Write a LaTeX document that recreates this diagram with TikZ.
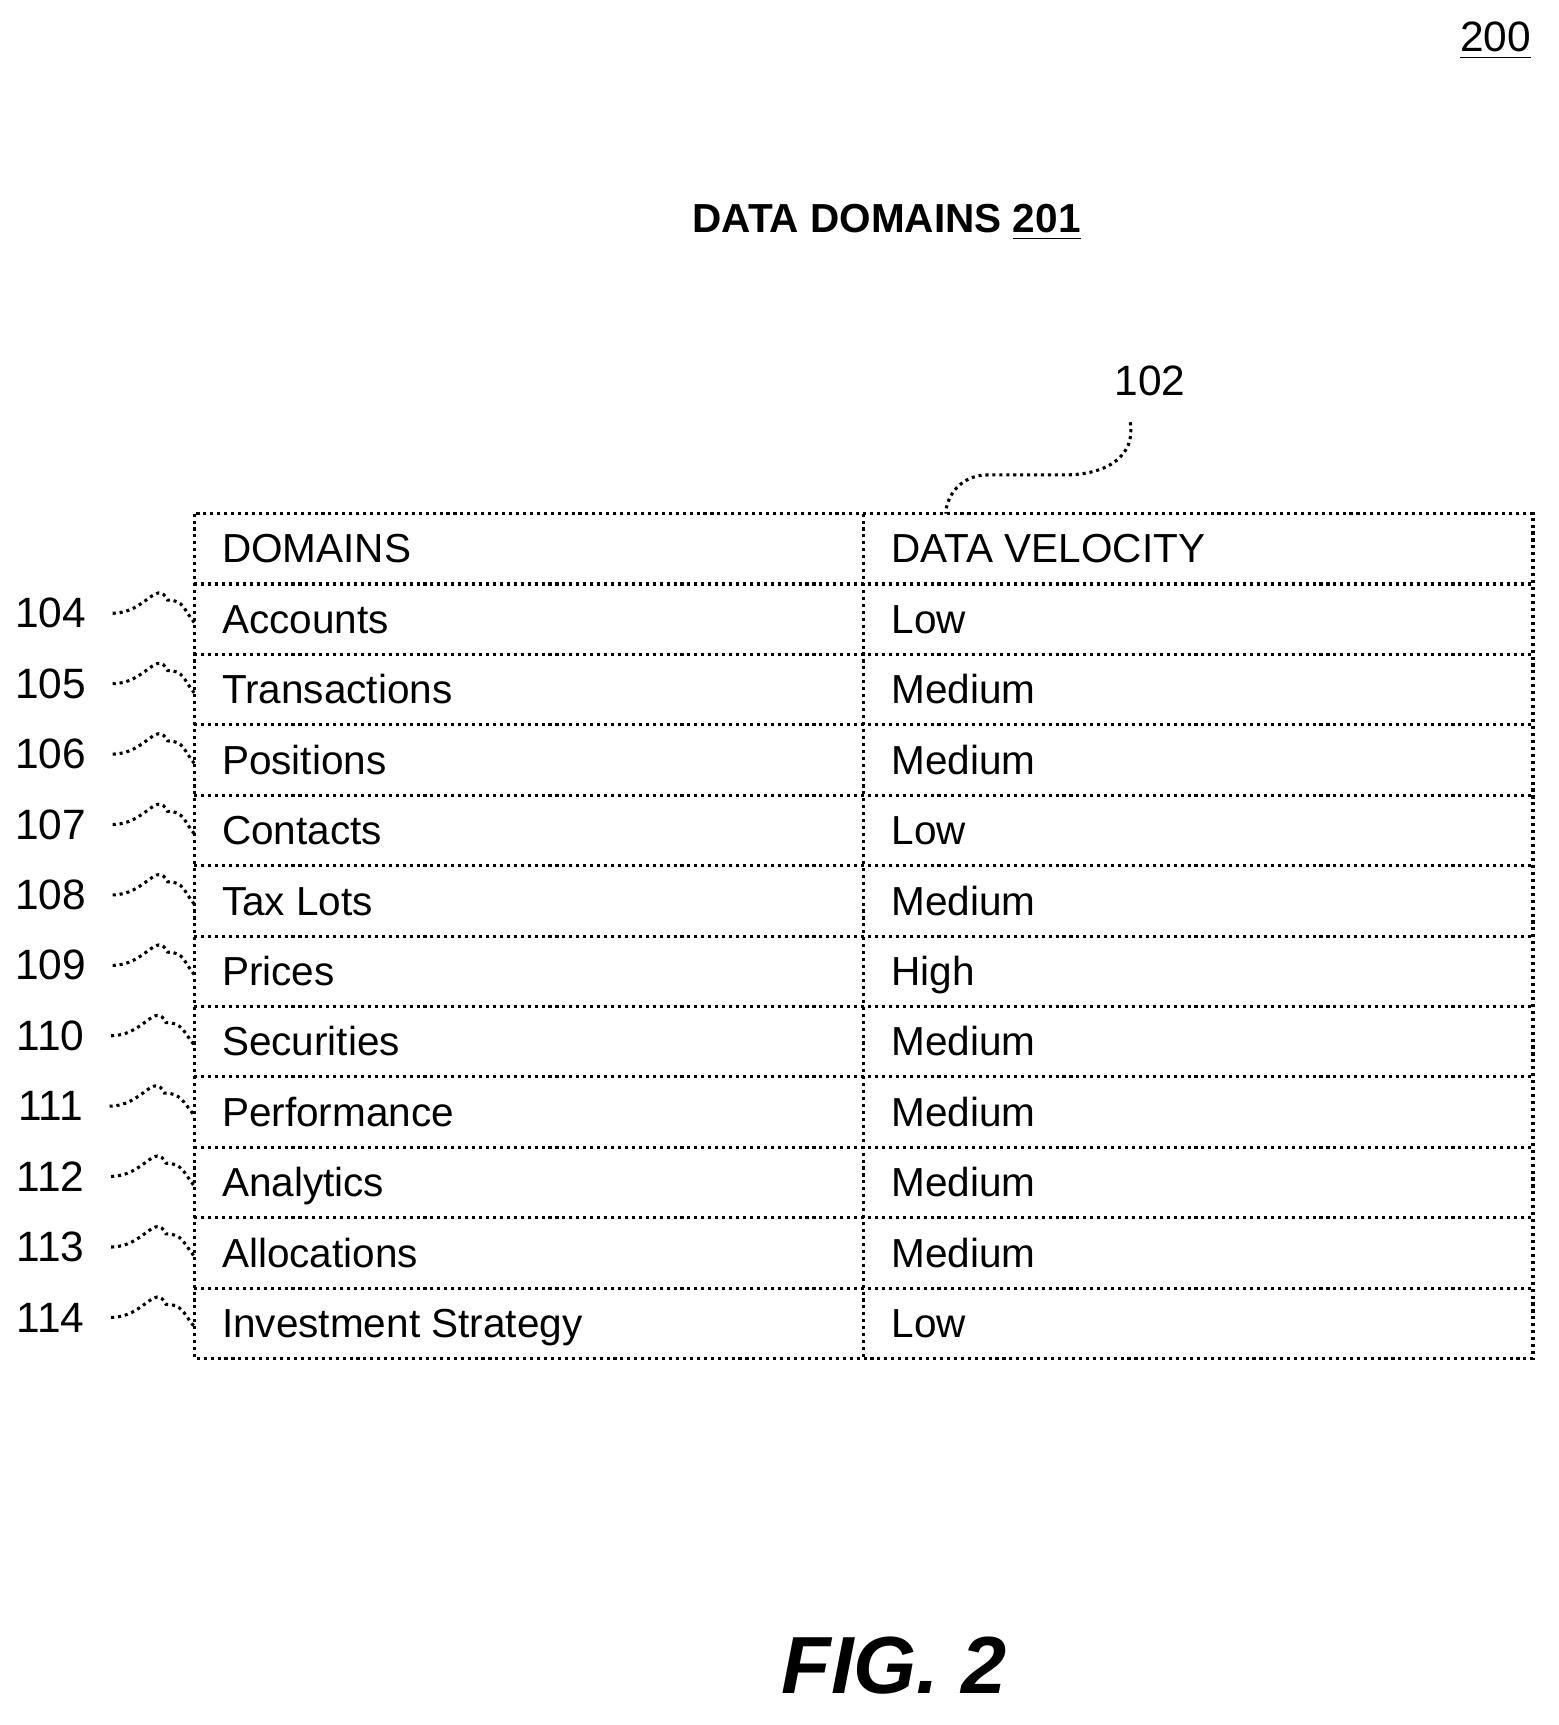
\documentclass[tikz,border=0pt]{standalone}
\usepackage{fontspec}
\setmainfont{Liberation Sans}
\begin{document}
\begin{tikzpicture}[x=0.01cm,y=-0.01cm,
    txt/.style={font=\fontsize{10.5}{13}\selectfont,anchor=base west},
    refnum/.style={font=\fontsize{11}{13}\selectfont,anchor=base},
    lead/.style={densely dotted,thick}]
    \useasboundingbox (0,0) rectangle (1420,1572);
    % header texts
    \node[refnum] (fignum) at (1363,47) {\underline{200}};
    \node[font=\bfseries\fontsize{10.5}{13}\selectfont,anchor=base] (title) at (808,212) {DATA DOMAINS \underline{201}};
    % table grid
    \draw[densely dotted,thick] (177,468) rectangle (1397,1238);
    \draw[densely dotted,thick] (787,468) -- (787,1238);
    \foreach \i in {1,...,11}
        \draw[densely dotted,thick] (177,468+64.17*\i) -- (1397,468+64.17*\i);
    \node[txt] (hdom) at (190,513) {DOMAINS};
    \node[txt] (hvel) at (800,513) {DATA VELOCITY};
    % rows
    \foreach \n/\dom/\vel [count=\i] in {104/Accounts/Low,105/Transactions/Medium,
        106/Positions/Medium,107/Contacts/Low,108/Tax Lots/Medium,109/Prices/High,
        110/Securities/Medium,111/Performance/Medium,112/Analytics/Medium,
        113/Allocations/Medium,114/Investment Strategy/Low}{
        \pgfmathsetmacro{\yb}{513+64.17*\i}
        \node[txt] (dom\n) at (190,\yb) {\dom};
        \node[txt] (vel\n) at (800,\yb) {\vel};
        \node[refnum] (lbl\n) at (46,\yb-5) {\n};
        \coordinate (cell\n) at (177,\yb-10);
        \draw[lead] (lbl\n.east) ++(12,0) .. controls +(30,0) and +(-10,-20) .. ++(50,-12)
            .. controls +(15,0) and +(-10,-12) .. (cell\n);
    }
    % column reference
    \node[refnum] (lbl102) at (1048,360) {102};
    \coordinate (colv) at (862,468);
    \draw[lead] (lbl102.south) ++(-18,12) .. controls +(5,30) and +(40,0) .. ++(-60,48)
        -- ++(-70,0) .. controls +(-25,0) and +(0,-15) .. (colv);
    % figure label
    \node[font=\bfseries\itshape\fontsize{21}{25}\selectfont] (fig) at (815,1518) {FIG. 2};
\end{tikzpicture}
\end{document}
